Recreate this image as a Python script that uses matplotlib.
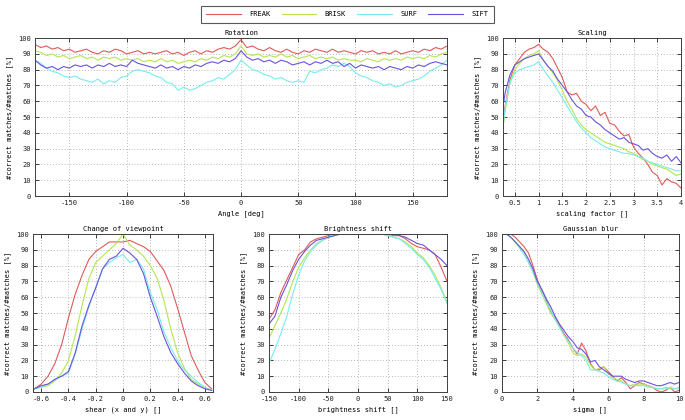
import matplotlib
matplotlib.use("Agg")
import matplotlib.pyplot as plt
import numpy as np

plt.rcParams['font.family'] = ['DejaVu Sans Mono']
plt.rcParams['font.size'] = 5
plt.rcParams['axes.unicode_minus'] = False

methods = ['FREAK', 'BRISK', 'SURF', 'SIFT']
colors = {'FREAK': '#e05a5a', 'BRISK': '#b4e650', 'SURF': '#78ecec', 'SIFT': '#6a52e0'}

# rotation, -180..180 deg in steps of 5
rot_angle = np.arange(-180, 181, 5)
rot_freak = [96, 94, 95, 93, 94, 92, 93, 91, 92, 93, 91, 90, 92, 91, 93, 92, 90, 91, 92, 90,
             91, 90, 91, 92, 90, 91, 89, 91, 92, 90, 92, 91, 93, 94, 93, 95, 99, 94, 95, 93,
             92, 94, 92, 91, 93, 91, 90, 92, 91, 93, 92, 91, 93, 91, 92, 91, 90, 92, 91, 92,
             90, 91, 90, 92, 90, 91, 92, 91, 93, 92, 94, 93, 95]
rot_brisk = [92, 91, 89, 90, 88, 89, 87, 88, 89, 87, 88, 86, 88, 87, 88, 86, 87, 86, 87, 85,
             86, 85, 87, 85, 86, 84, 85, 86, 85, 87, 86, 88, 87, 89, 88, 90, 95, 90, 89, 90,
             88, 89, 88, 90, 88, 89, 87, 88, 89, 87, 88, 87, 88, 86, 87, 86, 86, 85, 87, 86,
             85, 87, 86, 87, 86, 88, 87, 88, 87, 89, 88, 90, 91]
rot_surf = [86, 84, 81, 79, 78, 76, 75, 76, 74, 73, 72, 74, 71, 73, 72, 75, 76, 79, 80, 79,
            78, 76, 75, 72, 71, 67, 69, 67, 68, 70, 72, 73, 75, 74, 77, 80, 86, 83, 80, 79,
            77, 76, 74, 75, 73, 72, 73, 72, 79, 78, 80, 81, 83, 82, 84, 82, 78, 76, 75, 73,
            72, 70, 71, 69, 70, 72, 73, 74, 76, 79, 81, 83, 86]
rot_sift = [86, 83, 81, 82, 80, 82, 81, 83, 82, 83, 81, 83, 82, 84, 82, 83, 82, 86, 84, 83,
            82, 81, 83, 81, 82, 80, 82, 81, 83, 82, 84, 85, 84, 86, 85, 87, 92, 88, 86, 87,
            85, 86, 84, 86, 85, 83, 84, 85, 83, 85, 84, 86, 84, 85, 82, 84, 81, 83, 82, 81,
            82, 80, 82, 81, 80, 82, 81, 83, 82, 84, 85, 84, 83]

# scaling
scale_factor = np.concatenate([[0.25], np.round(np.arange(0.3, 4.01, 0.1), 2)])
scale_freak = [45, 58, 74, 83, 87, 91, 93, 94, 96, 93, 91, 87, 81, 75, 66, 64, 65, 60, 58, 54,
               57, 51, 53, 46, 45, 41, 38, 39, 31, 27, 24, 20, 15, 13, 7, 11, 9, 8, 5]
scale_brisk = [43, 55, 72, 80, 84, 87, 89, 90, 92, 86, 82, 78, 73, 67, 60, 55, 49, 45, 42, 40,
               38, 36, 34, 33, 32, 31, 30, 28, 27, 25, 23, 22, 20, 19, 18, 17, 15, 13, 14]
scale_surf = [44, 57, 72, 78, 80, 81, 82, 83, 85, 80, 76, 72, 67, 62, 57, 52, 47, 43, 40, 37,
              35, 33, 31, 30, 29, 28, 27, 27, 26, 25, 24, 22, 21, 20, 19, 18, 17, 16, 16]
scale_sift = [57, 66, 77, 83, 85, 87, 88, 89, 90, 86, 82, 79, 74, 70, 66, 61, 57, 55, 51, 50,
              47, 45, 42, 40, 38, 36, 37, 34, 33, 32, 29, 30, 27, 25, 24, 26, 22, 25, 21]

# change of viewpoint
shear = np.round(np.arange(-0.65, 0.651, 0.05), 2)
view_freak = [2, 5, 10, 18, 30, 47, 62, 74, 84, 89, 92, 95, 95, 95, 96, 94, 92, 89, 83, 77,
              67, 53, 38, 23, 14, 6, 2]
view_brisk = [2, 3, 4, 7, 12, 20, 36, 55, 72, 82, 86, 90, 94, 100, 93, 90, 86, 80, 72, 58,
              40, 25, 15, 8, 5, 3, 1]
view_surf = [2, 3, 5, 8, 10, 12, 24, 40, 54, 66, 78, 82, 85, 87, 82, 84, 78, 63, 52, 38,
             28, 20, 14, 10, 6, 3, 1]
view_sift = [2, 4, 5, 8, 10, 13, 25, 42, 55, 66, 78, 84, 86, 91, 88, 84, 75, 60, 48, 35,
             25, 18, 12, 7, 4, 2, 1]

# brightness shift
shift = np.arange(-150, 151, 10)
bright_freak = [46, 52, 63, 71, 79, 87, 90, 95, 97, 98, 99, 100, 100, 100, 100, 100, 100, 100,
                100, 100, 100, 99, 99, 97, 94, 92, 91, 90, 87, 79, 70]
bright_brisk = [34, 42, 50, 59, 70, 79, 85, 90, 94, 96, 98, 99, 100, 100, 100, 100, 100, 100,
                100, 100, 99, 98, 97, 95, 92, 88, 85, 80, 74, 66, 57]
bright_surf = [18, 27, 37, 48, 62, 74, 83, 89, 93, 96, 98, 99, 100, 100, 100, 100, 100, 100,
               100, 100, 99, 98, 97, 94, 91, 87, 84, 79, 72, 65, 56]
bright_sift = [43, 48, 60, 68, 77, 84, 89, 93, 96, 97, 98, 99, 100, 100, 100, 100, 100, 100,
               100, 100, 100, 100, 99, 98, 96, 94, 93, 90, 87, 84, 80]

# gaussian blur
sigma = np.arange(0, 10.01, 0.25)
blur_freak = [100, 100, 100, 98, 95, 92, 88, 80, 71, 64, 58, 51, 47, 42, 37, 33, 28, 24, 31, 26,
              18, 14, 14, 16, 13, 10, 7, 9, 6, 2, 4, 6, 5, 4, 3, 1, 0, 1, 3, 0, 1]
blur_brisk = [100, 100, 98, 95, 92, 88, 82, 76, 68, 62, 56, 50, 46, 41, 36, 31, 25, 23, 24, 22,
              17, 14, 15, 16, 12, 9, 8, 7, 5, 4, 5, 5, 5, 4, 3, 2, 2, 3, 2, 2, 3]
blur_surf = [100, 100, 98, 95, 91, 87, 82, 76, 69, 63, 57, 52, 46, 41, 36, 32, 28, 25, 23, 20,
             14, 14, 13, 12, 10, 8, 7, 6, 5, 4, 4, 4, 4, 3, 3, 2, 2, 2, 3, 2, 2]
blur_sift = [100, 100, 98, 95, 92, 89, 84, 78, 70, 65, 59, 54, 48, 43, 39, 35, 32, 28, 27, 24,
             19, 20, 16, 14, 12, 10, 10, 10, 8, 7, 6, 7, 7, 6, 5, 4, 4, 5, 6, 5, 6]

YLABEL = '#correct matches/#matches [%]'


def style(ax, title, xlabel, xlim, xticks, xticklabels=None):
	ax.set_xlim(xlim)
	ax.set_ylim(0, 100)
	ax.set_xticks(xticks)
	if xticklabels is not None:
		ax.set_xticklabels(xticklabels)
	ax.set_yticks(range(0, 101, 10))
	ax.grid(True, linestyle=(0, (1, 2.5)), color='#a0a0a0', linewidth=0.6)
	ax.tick_params(direction='in', length=3, width=0.6, top=True, right=True,
				   colors='#202020', labelsize=5, pad=3)
	for s in ax.spines.values():
		s.set_color('#404040')
		s.set_linewidth(0.7)
	ax.set_title(title, fontsize=5, pad=2)
	ax.set_xlabel(xlabel, fontsize=5, labelpad=3)
	ax.set_ylabel(YLABEL, fontsize=5, labelpad=4)


def draw(ax, x, series):
	lines = []
	for name in methods:
		ln, = ax.plot(x, series[name], color=colors[name], linewidth=0.8, label=name)
		lines.append(ln)
	return lines


fig = plt.figure(figsize=(6.85, 4.2), dpi=100)

ax_rot = fig.add_axes([0.0511, 0.5333, 0.6015, 0.376])
ax_sc = fig.add_axes([0.7343, 0.5333, 0.2599, 0.376])
ax_vp = fig.add_axes([0.0482, 0.0667, 0.2628, 0.376])
ax_br = fig.add_axes([0.3927, 0.0667, 0.2599, 0.376])
ax_bl = fig.add_axes([0.7328, 0.0667, 0.2584, 0.376])

lines = draw(ax_rot, rot_angle, {'FREAK': rot_freak, 'BRISK': rot_brisk, 'SURF': rot_surf, 'SIFT': rot_sift})
style(ax_rot, 'Rotation', 'Angle [deg]', (-180, 180), [-150, -100, -50, 0, 50, 100, 150])

draw(ax_sc, scale_factor, {'FREAK': scale_freak, 'BRISK': scale_brisk, 'SURF': scale_surf, 'SIFT': scale_sift})
style(ax_sc, 'Scaling', 'scaling factor []', (0.25, 4), [0.5, 1, 1.5, 2, 2.5, 3, 3.5, 4],
	  ['0.5', '1', '1.5', '2', '2.5', '3', '3.5', '4'])

draw(ax_vp, shear, {'FREAK': view_freak, 'BRISK': view_brisk, 'SURF': view_surf, 'SIFT': view_sift})
style(ax_vp, 'Change of viewpoint', 'shear (x and y) []', (-0.66, 0.66),
	  [-0.6, -0.4, -0.2, 0, 0.2, 0.4, 0.6], ['-0.6', '-0.4', '-0.2', '0', '0.2', '0.4', '0.6'])

draw(ax_br, shift, {'FREAK': bright_freak, 'BRISK': bright_brisk, 'SURF': bright_surf, 'SIFT': bright_sift})
style(ax_br, 'Brightness shift', 'brightness shift []', (-150, 150), [-150, -100, -50, 0, 50, 100, 150])

draw(ax_bl, sigma, {'FREAK': blur_freak, 'BRISK': blur_brisk, 'SURF': blur_surf, 'SIFT': blur_sift})
style(ax_bl, 'Gaussian blur', 'sigma []', (0, 10), [0, 2, 4, 6, 8, 10])

leg = fig.legend(handles=lines, labels=methods, ncol=4, loc='center',
				 bbox_to_anchor=(0.507, 0.9655), fontsize=5, frameon=True,
				 fancybox=False, handlelength=5.0, columnspacing=1.6, handletextpad=1.2,
				 borderpad=0.8, borderaxespad=0)
leg.get_frame().set_edgecolor('#303030')
leg.get_frame().set_linewidth(0.8)

fig.savefig('out.png', dpi=100)
